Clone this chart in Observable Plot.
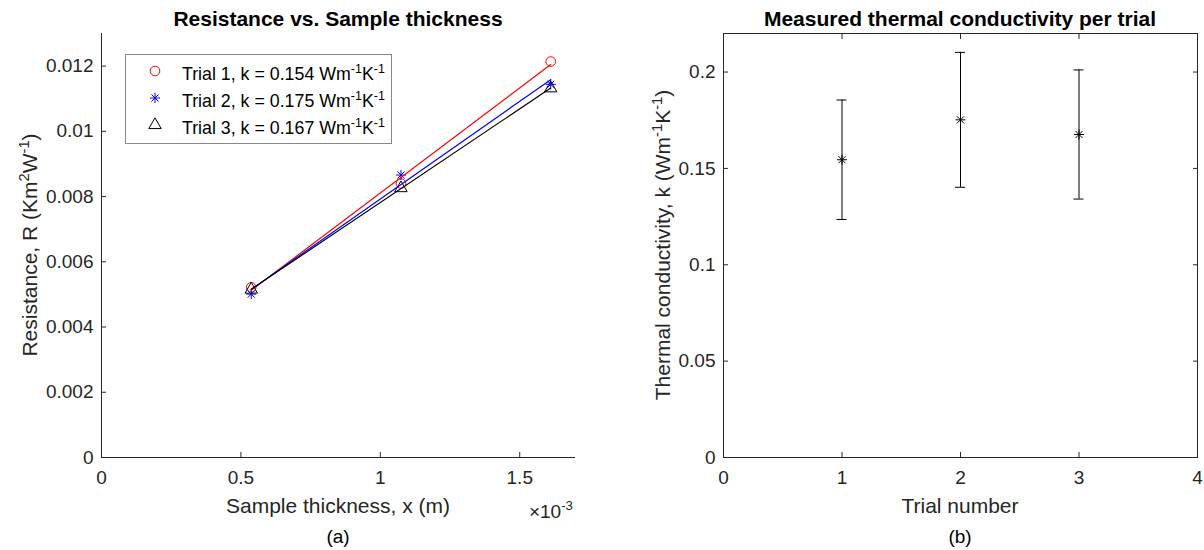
<!DOCTYPE html>
<html><head><meta charset="utf-8">
<script src="https://cdn.jsdelivr.net/npm/d3@7"></script>
<script src="https://cdn.jsdelivr.net/npm/@observablehq/plot@0.6"></script>
<style>
body{margin:0;background:#fff;}
#wrap{position:relative;width:1204px;height:550px;overflow:hidden;font-family:"Liberation Sans",Arial,sans-serif;color:#262626;}
#wrap > svg{position:absolute;top:0;}
</style></head><body><div id="wrap"></div>
<script>
// ---- data: panel (a) ----
const thickness = [0.000537, 0.001074, 0.001611];      // m
const trial1R = [0.00522, 0.00840, 0.01214];           // K m^2 W^-1
const trial2R = [0.00501, 0.00866, 0.01144];
const trial3R = [0.00515, 0.00826, 0.01132];
const trialNames = ["Trial 1", "Trial 2", "Trial 3"];
const trialK = ["0.154", "0.175", "0.167"];
const trialColors = ["#ff0000", "#0000ff", "#000000"];
const xTicksA = [0, 0.0005, 0.001, 0.0015];
const xTickLabelsA = ["0", "0.5", "1", "1.5"];
const yTicksA = [0, 0.002, 0.004, 0.006, 0.008, 0.01, 0.012];
const yTickLabelsA = ["0", "0.002", "0.004", "0.006", "0.008", "0.01", "0.012"];
// ---- data: panel (b) ----
const trialNumbers = [1, 2, 3];
const conductivity = [0.1545, 0.1752, 0.1676];         // W m^-1 K^-1
const conductivityErr = [0.031, 0.035, 0.0335];
const xTicksB = [0, 1, 2, 3, 4];
const yTicksB = [0, 0.05, 0.1, 0.15, 0.2];
const yTickLabelsB = ["0", "0.05", "0.1", "0.15", "0.2"];

const FONT = '"Liberation Sans", Arial, sans-serif';
const AX = "#262626";

const asterisk = {
  draw(ctx, size) {
    const r = Math.sqrt(size / Math.PI), d = r * Math.SQRT1_2;
    ctx.moveTo(-r, 0); ctx.lineTo(r, 0);
    ctx.moveTo(0, -r); ctx.lineTo(0, r);
    ctx.moveTo(-d, -d); ctx.lineTo(d, d);
    ctx.moveTo(-d, d); ctx.lineTo(d, -d);
  }
};
const symbols = ["circle", asterisk, "triangle"];
const symbolR = [4.8, 5, 4.6];

const seriesR = [trial1R, trial2R, trial3R];
const rowsA = trialNames.map((name, i) => thickness.map((x, j) => ({trial: name, x, R: seriesR[i][j]})));

const style = {fontFamily: FONT, fontSize: "19px", color: AX, background: "transparent", overflow: "visible"};

const plotA = Plot.plot({
  width: 602, height: 550,
  marginLeft: 101, marginRight: 27, marginTop: 33, marginBottom: 93,
  style,
  x: {domain: [0, 0.0017]},
  y: {domain: [0, 0.013]},
  marks: [
    Plot.axisX({ticks: xTicksA, tickSize: 0, tickPadding: 13, tickFormat: (d, i) => xTickLabelsA[i], label: null}),
    Plot.axisX({ticks: xTicksA, tickSize: 5, dy: -5, fill: "none", label: null}),
    Plot.axisY({ticks: yTicksA, tickSize: 0, tickPadding: 8, tickFormat: (d, i) => yTickLabelsA[i], label: null}),
    Plot.axisY({ticks: yTicksA, tickSize: 5, dx: 5, fill: "none", label: null}),
    Plot.ruleX([0], {stroke: AX}),
    Plot.ruleY([0], {stroke: AX}),
    ...rowsA.map((rows, i) => Plot.dot(rows, {x: "x", y: "R", symbol: symbols[i], r: symbolR[i], stroke: trialColors[i], fill: "none", strokeWidth: 1})),
    ...rowsA.map((rows, i) => Plot.linearRegressionY(rows, {x: "x", y: "R", stroke: trialColors[i], ci: 0, strokeWidth: 1.2}))
  ]
});
plotA.style.left = "0px";

const rowsB = trialNumbers.map((t, i) => ({trial: t, k: conductivity[i], lo: conductivity[i] - conductivityErr[i], hi: conductivity[i] + conductivityErr[i]}));

const plotB = Plot.plot({
  width: 602, height: 550,
  marginLeft: 121, marginRight: 7, marginTop: 33, marginBottom: 93,
  style,
  x: {domain: [0, 4]},
  y: {domain: [0, 0.22]},
  marks: [
    Plot.frame({stroke: AX}),
    Plot.axisX({ticks: xTicksB, tickSize: 0, tickPadding: 13, tickFormat: d => String(d), label: null}),
    Plot.axisX({ticks: xTicksB, tickSize: 5, dy: -5, fill: "none", label: null}),
    Plot.axisX({ticks: xTicksB, anchor: "top", tickSize: 5, dy: 5, fill: "none", label: null}),
    Plot.axisY({ticks: yTicksB, tickSize: 0, tickPadding: 8, tickFormat: (d, i) => yTickLabelsB[i], label: null}),
    Plot.axisY({ticks: yTicksB, tickSize: 5, dx: 5, fill: "none", label: null}),
    Plot.axisY({ticks: yTicksB, anchor: "right", tickSize: 5, dx: -5, fill: "none", label: null}),
    Plot.ruleX(rowsB, {x: "trial", y1: "lo", y2: "hi", stroke: "#000", strokeWidth: 1}),
    Plot.ruleY(rowsB, {x1: "trial", x2: "trial", y: "lo", insetLeft: -5, insetRight: -5, stroke: "#000", strokeWidth: 1}),
    Plot.ruleY(rowsB, {x1: "trial", x2: "trial", y: "hi", insetLeft: -5, insetRight: -5, stroke: "#000", strokeWidth: 1}),
    Plot.dot(rowsB, {x: "trial", y: "k", symbol: asterisk, r: 5, stroke: "#000", fill: "none", strokeWidth: 1})
  ]
});
plotB.style.left = "602px";

const wrap = document.getElementById("wrap");
wrap.appendChild(plotA);
wrap.appendChild(plotB);

// ---- overlay: titles, axis labels, captions, legend ----
const ov = d3.select(wrap).append("svg")
  .attr("width", 1204).attr("height", 550)
  .style("left", "0px")
  .attr("font-family", FONT).attr("fill", AX);

function richText(g, parts, size) {
  const t = g.append("text").attr("font-size", size);
  let shifted = false;
  for (const [s, sup] of parts) {
    const ts = t.append("tspan").text(s);
    if (sup && !shifted) { ts.attr("font-size", size * 0.7).attr("dy", -size * 0.4); shifted = true; }
    else if (!sup && shifted) { ts.attr("dy", size * 0.4); shifted = false; }
    else if (sup) ts.attr("font-size", size * 0.7);
  }
  return t;
}

// titles
ov.append("text").attr("x", 338).attr("y", 26).attr("text-anchor", "middle")
  .attr("font-size", 21).attr("font-weight", "bold").attr("fill", "#000").text("Resistance vs. Sample thickness");
ov.append("text").attr("x", 960).attr("y", 26).attr("text-anchor", "middle")
  .attr("font-size", 21).attr("font-weight", "bold").attr("fill", "#000").text("Measured thermal conductivity per trial");

// x labels
ov.append("text").attr("x", 338).attr("y", 513).attr("text-anchor", "middle").attr("font-size", 21).text("Sample thickness, x (m)");
ov.append("text").attr("x", 960).attr("y", 513).attr("text-anchor", "middle").attr("font-size", 21).text("Trial number");
richText(ov, [["\u00d710", false], ["-3", true]], 19).attr("x", 573).attr("y", 518).attr("text-anchor", "end");

// y labels
richText(ov.append("g").attr("transform", "translate(37,245) rotate(-90)"),
  [["Resistance, R (Km", false], ["2", true], ["W", false], ["-1", true], [")", false]], 21).attr("text-anchor", "middle");
richText(ov.append("g").attr("transform", "translate(670,245) rotate(-90)"),
  [["Thermal conductivity, k (Wm", false], ["-1", true], ["K", false], ["-1", true], [")", false]], 21).attr("text-anchor", "middle");

// captions
ov.append("text").attr("x", 338).attr("y", 543).attr("text-anchor", "middle").attr("font-size", 19).attr("fill", "#000").text("(a)");
ov.append("text").attr("x", 960).attr("y", 543).attr("text-anchor", "middle").attr("font-size", 19).attr("fill", "#000").text("(b)");

// legend
const lg = ov.append("g");
lg.append("rect").attr("x", 125.5).attr("y", 54.5).attr("width", 266).attr("height", 89)
  .attr("fill", "#fff").attr("stroke", "#888").attr("stroke-width", 1);
trialNames.forEach((name, i) => {
  const cy = 71 + i * 27;
  const sym = typeof symbols[i] === "string" ? (symbols[i] === "circle" ? d3.symbolCircle : d3.symbolTriangle) : symbols[i];
  lg.append("path").attr("transform", `translate(155,${cy})`)
    .attr("d", d3.symbol(sym, Math.PI * symbolR[i] * symbolR[i])())
    .attr("fill", "none").attr("stroke", trialColors[i]).attr("stroke-width", 1);
  richText(lg, [[`${name}, k = ${trialK[i]} Wm`, false], ["-1", true], ["K", false], ["-1", true]], 17.8)
    .attr("x", 182).attr("y", cy + 9).attr("fill", "#000");
});
</script></body></html>
